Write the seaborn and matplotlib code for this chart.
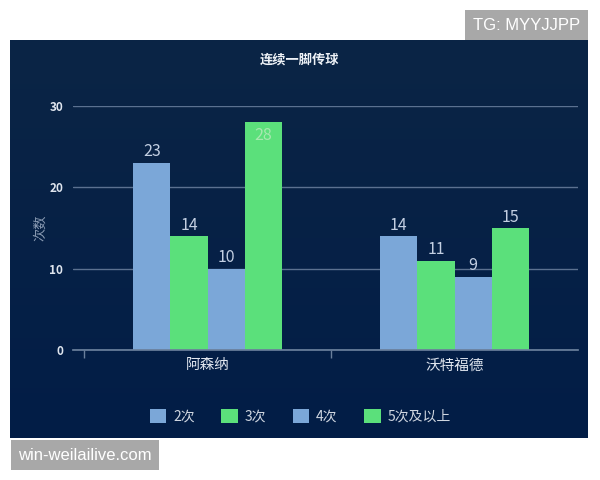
import numpy as np
import pandas as pd
import seaborn as sns
import matplotlib.pyplot as plt
from matplotlib.colors import LinearSegmentedColormap

teams = ["阿森纳", "沃特福德"]
passes = ["2次", "3次", "4次", "5次及以上"]
counts_arsenal = [23, 14, 10, 28]
counts_watford = [14, 11, 9, 15]
bar_colors = ["#7ba7d8", "#5be07b", "#7ba7d8", "#5be07b"]

df = pd.DataFrame({
    "team": np.repeat(teams, len(passes)),
    "passes": passes * len(teams),
    "count": counts_arsenal + counts_watford,
})

sns.set_theme(style="dark")
plt.rcParams["font.family"] = ["Noto Sans CJK SC", "DejaVu Sans"]

fig = plt.figure(figsize=(6, 4.8), dpi=100)
fig.patch.set_facecolor("white")

# dark panel with a slight vertical gradient
bg = fig.add_axes([10 / 600, 1 - 438 / 480, 578 / 600, 398 / 480])
grad = np.linspace(0, 1, 256).reshape(-1, 1)
cmap = LinearSegmentedColormap.from_list("bg", ["#0b2545", "#021d47"])
bg.imshow(grad, aspect="auto", cmap=cmap, extent=[0, 1, 0, 1])
bg.set_axis_off()

ax = fig.add_axes([73 / 600, 1 - 350 / 480, 505 / 600, 244 / 480])
ax.set_facecolor("none")
sns.barplot(data=df, x="team", y="count", hue="passes", palette=bar_colors,
            width=0.6, saturation=1, linewidth=0, ax=ax, zorder=3, legend=True)

ax.set_xlim(-0.5 - 11 / 247, 1.5)
ax.set_ylim(0, 30)
ax.set_yticks([0, 10, 20, 30])
ax.grid(axis="y", color="#5b7190", linewidth=1, zorder=0)
ax.grid(axis="x", visible=False)
for s in ["top", "right", "left"]:
    ax.spines[s].set_visible(False)
ax.spines["bottom"].set_color("#6a7f9c")
ax.spines["bottom"].set_zorder(4)
ax.set_xticks([0, 1])
ax.set_xticklabels(teams, fontsize=10.5, color="#e0e6ef")
ax.set_xticks([-0.5, 0.5], minor=True)
ax.tick_params(axis="x", which="major", length=0, pad=6)
ax.tick_params(axis="x", which="minor", bottom=True, length=6, color="#6a7f9c", width=1)
ax.tick_params(axis="y", length=0, labelsize=8.5, labelcolor="#dfe5ee", pad=7)
for t in ax.get_yticklabels():
    t.set_fontweight("bold")
ax.set_xlabel("")
ax.set_ylabel("次数", fontsize=9.5, color="#8a9bb3", labelpad=2)

for p in ax.patches:
    h = p.get_height()
    if np.isnan(h) or p.get_width() == 0:
        continue
    cx = p.get_x() + p.get_width() / 2
    if h > 26:
        ax.text(cx, h - 0.6, f"{int(h)}", ha="center", va="top",
                fontsize=11.5, color="#a8e8b0", zorder=5)
    else:
        ax.text(cx, h + 0.3, f"{int(h)}", ha="center", va="bottom",
                fontsize=11.5, color="#c3cfe2", zorder=5)

leg = ax.legend(loc="upper center", bbox_to_anchor=(0.45, -0.19), ncol=4,
                frameon=False, fontsize=10, handlelength=1.2, handleheight=1.2,
                columnspacing=1.9, handletextpad=0.5)
for t in leg.get_texts():
    t.set_color("#cfd6e0")

fig.text(0.5, 1 - 60 / 480, "连续一脚传球", ha="center", va="center",
         fontsize=9.5, color="#eef2f7", fontweight="bold")

# watermarks
fig.text(580 / 600, 1 - 25 / 480, "TG: MYYJJPP", ha="right", va="center",
         fontsize=12, color="white", family=["Liberation Sans"],
         bbox=dict(boxstyle="square,pad=0.45", facecolor="#a8a8a8", edgecolor="none"))
fig.text(18 / 600, 1 - 455 / 480, "win-weilailive.com", ha="left", va="center",
         fontsize=12, color="white", family=["Liberation Sans"],
         bbox=dict(boxstyle="square,pad=0.45", facecolor="#a8a8a8", edgecolor="none"))

fig.savefig("out.png", dpi=100, facecolor="white")
